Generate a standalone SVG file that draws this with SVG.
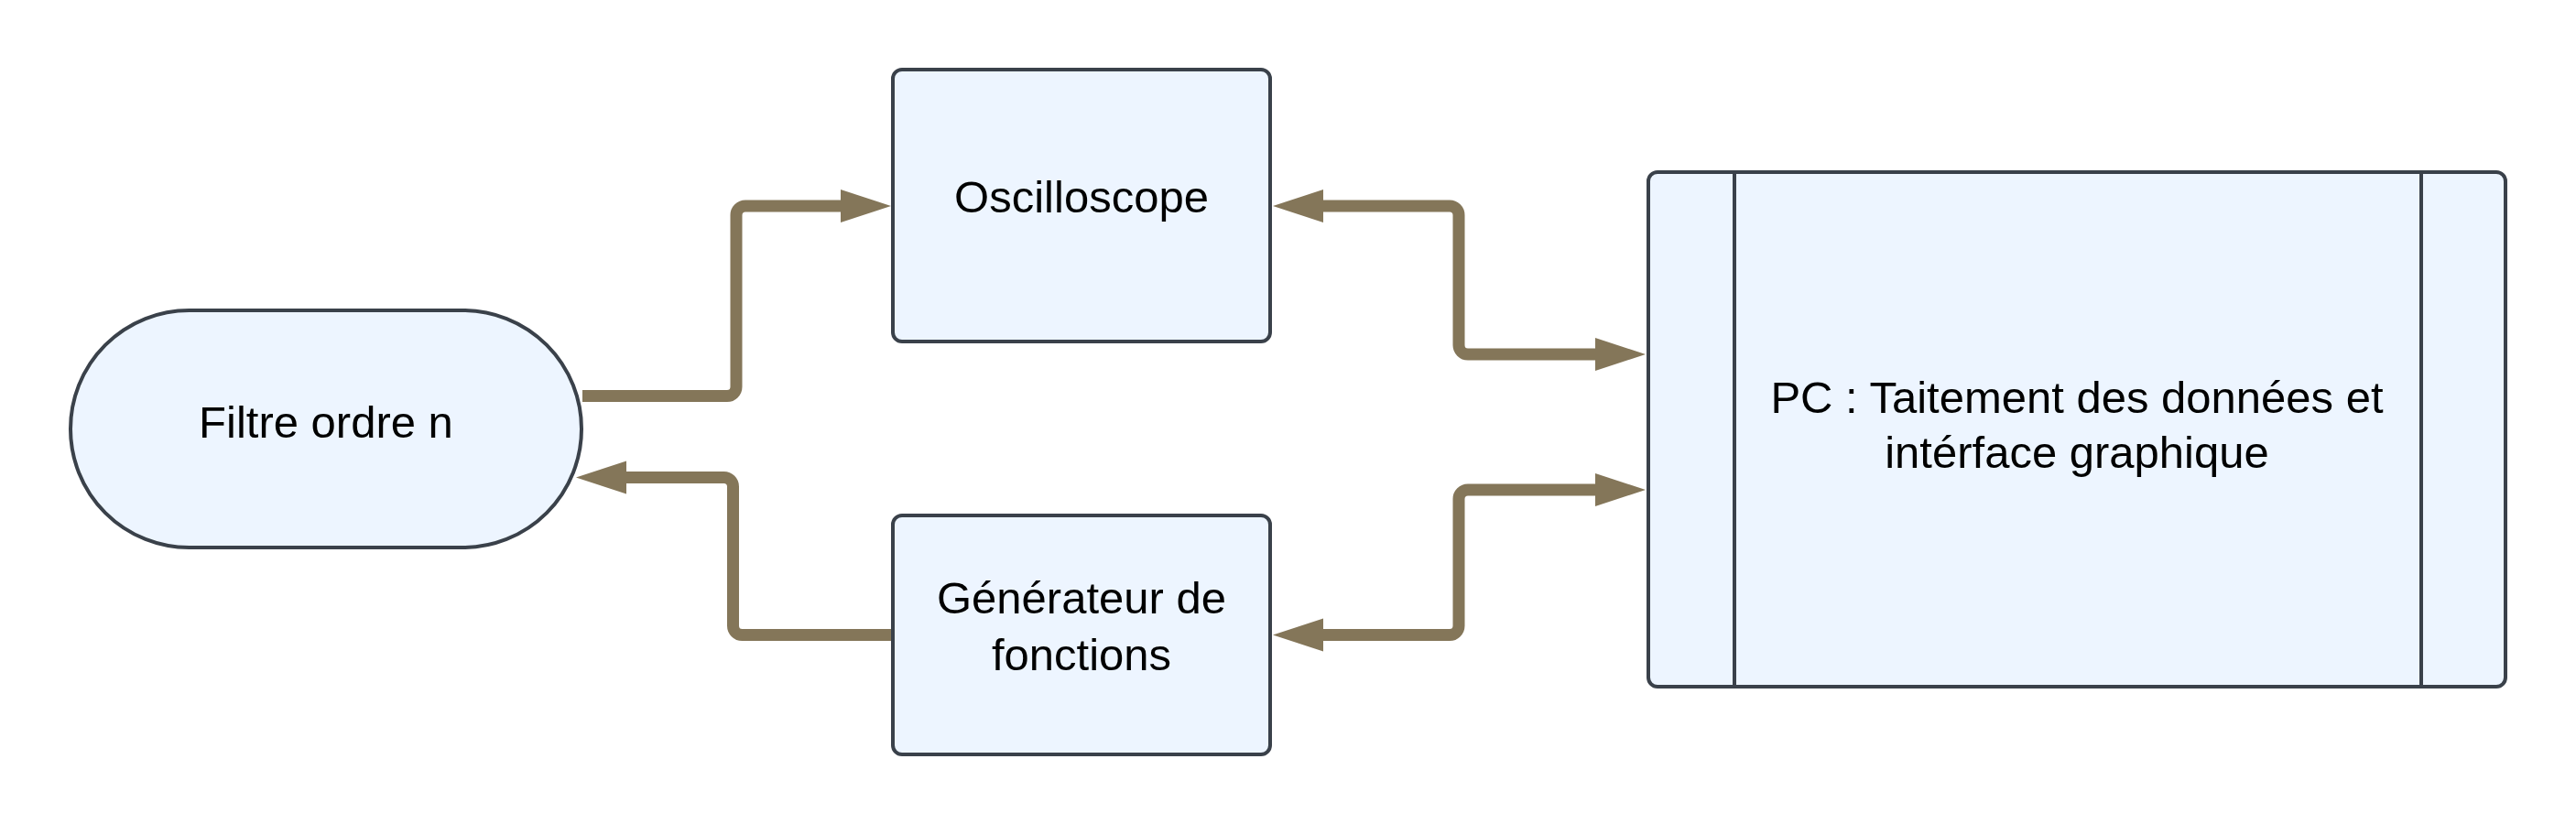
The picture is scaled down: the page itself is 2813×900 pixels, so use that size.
<svg xmlns="http://www.w3.org/2000/svg" width="2813" height="900" viewBox="0 0 2813 900">
<style>
.node{fill:#EDF5FF;stroke:#3A414A;stroke-width:4}
.sep{stroke:#3A414A;stroke-width:4}
.lbl{font-family:"Liberation Sans",Arial,sans-serif;font-size:49px;fill:#000;text-anchor:middle}
.conn{fill:none;stroke:#847659;stroke-width:13;stroke-linejoin:round}
</style>
<defs>
<marker id="arr" markerUnits="userSpaceOnUse" markerWidth="56" markerHeight="38" refX="0" refY="19" orient="auto-start-reverse" overflow="visible">
<path d="M0,1 L55,19 L0,37 z" fill="#847659"/>
</marker>
</defs>
<rect width="2813" height="900" fill="#FFFFFF"/>
<g id="connectors">
<path class="conn" d="M636,432.5 H794 A10 10 0 0 0 804 422.5 V235 A10 10 0 0 1 814 225 H918" marker-end="url(#arr)"/>
<path class="conn" d="M975,693.5 H810.5 A10 10 0 0 1 800.5 683.5 V531.5 A10 10 0 0 0 790.5 521.5 H684" marker-end="url(#arr)"/>
<path class="conn" d="M1445,225 H1583 A10 10 0 0 1 1593 235 V377 A10 10 0 0 0 1603 387 H1742" marker-start="url(#arr)" marker-end="url(#arr)"/>
<path class="conn" d="M1445,693.5 H1583 A10 10 0 0 0 1593 683.5 V545 A10 10 0 0 1 1603 535 H1742" marker-start="url(#arr)" marker-end="url(#arr)"/>
</g>
<g id="filtre">
<rect class="node" x="77" y="339" width="558" height="259" rx="129.5" ry="129.5"/>
<text class="lbl" x="356" y="478">Filtre ordre n</text>
</g>
<g id="oscilloscope">
<rect class="node" x="975" y="76" width="412" height="297" rx="10"/>
<text class="lbl" x="1181" y="232">Oscilloscope</text>
</g>
<g id="generateur">
<rect class="node" x="975" y="563" width="412" height="261" rx="10"/>
<text class="lbl" x="1181" y="670">Générateur de</text>
<text class="lbl" x="1181" y="732">fonctions</text>
</g>
<g id="pc">
<rect class="node" x="1800" y="188" width="936" height="562" rx="10"/>
<line class="sep" x1="1894" y1="188" x2="1894" y2="750"/>
<line class="sep" x1="2644" y1="188" x2="2644" y2="750"/>
<text class="lbl" x="2268" y="451">PC : Taitement des données et</text>
<text class="lbl" x="2268" y="511">intérface graphique</text>
</g>
</svg>
